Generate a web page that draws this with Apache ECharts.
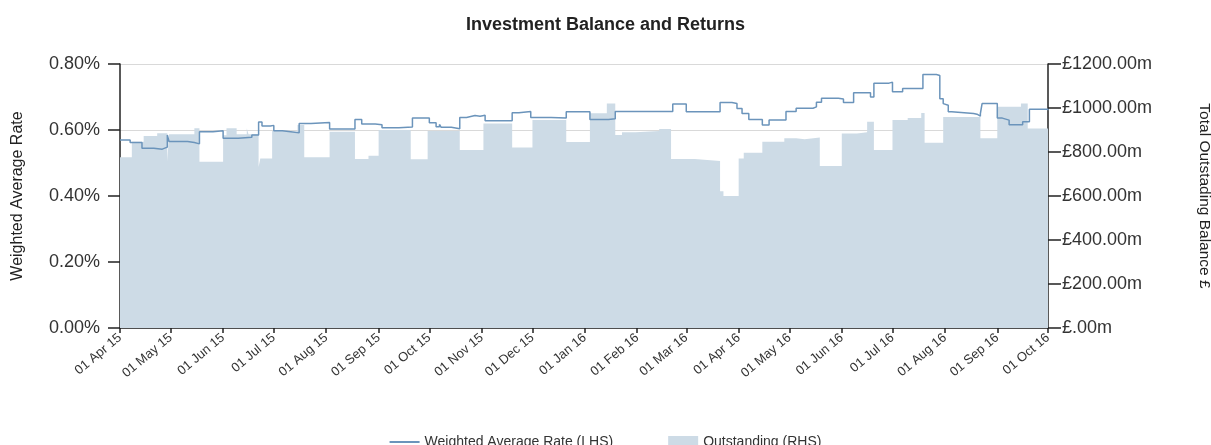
<!DOCTYPE html>
<html lang="en">
<head>
   <meta charset="utf-8">
   <title>Investment Balance and Returns</title>
   <script src="https://cdn.jsdelivr.net/npm/echarts@6.0.0/dist/echarts.min.js"></script>
   <style>
      html, body { margin: 0; padding: 0; background: #fff; }
      #chart { width: 1211px; height: 445px; }
   </style>
</head>
<body>
   <div id="chart"></div>
   <script>
      // axis span (daily categories)
      var startDate = '2015-04-01';
      var endDate = '2016-10-01';

      // weighted average rate (%), value holds until next change
      var rateSteps = [
         ['2015-04-01', 0.570], ['2015-04-07', 0.562], ['2015-04-14', 0.545], ['2015-04-21', 0.542],
         ['2015-04-26', 0.548], ['2015-04-29', 0.585], ['2015-04-30', 0.565], ['2015-05-11', 0.562],
         ['2015-05-15', 0.558], ['2015-05-18', 0.595], ['2015-05-26', 0.598], ['2015-06-01', 0.575],
         ['2015-06-10', 0.578], ['2015-06-18', 0.585], ['2015-06-22', 0.624], ['2015-06-24', 0.612],
         ['2015-06-29', 0.614], ['2015-07-01', 0.598], ['2015-07-06', 0.592], ['2015-07-16', 0.620],
         ['2015-07-23', 0.623], ['2015-08-03', 0.603], ['2015-08-18', 0.632], ['2015-08-22', 0.618],
         ['2015-08-30', 0.616], ['2015-09-03', 0.607], ['2015-09-13', 0.609], ['2015-09-21', 0.636],
         ['2015-10-01', 0.622], ['2015-10-05', 0.610], ['2015-10-07', 0.617], ['2015-10-08', 0.608],
         ['2015-10-14', 0.604], ['2015-10-19', 0.638], ['2015-10-23', 0.644], ['2015-10-28', 0.642],
         ['2015-10-31', 0.645], ['2015-11-03', 0.628], ['2015-11-19', 0.652], ['2015-11-23', 0.656],
         ['2015-11-30', 0.638], ['2015-12-12', 0.636], ['2015-12-21', 0.655], ['2016-01-04', 0.632],
         ['2016-01-15', 0.634], ['2016-01-19', 0.656], ['2016-02-22', 0.679], ['2016-03-01', 0.655],
         ['2016-03-21', 0.683], ['2016-03-28', 0.680], ['2016-03-31', 0.665], ['2016-04-03', 0.650],
         ['2016-04-07', 0.632], ['2016-04-15', 0.615], ['2016-04-19', 0.630], ['2016-04-29', 0.656],
         ['2016-05-05', 0.666], ['2016-05-15', 0.670], ['2016-05-17', 0.684], ['2016-05-20', 0.696],
         ['2016-05-30', 0.694], ['2016-06-02', 0.683], ['2016-06-08', 0.713], ['2016-06-18', 0.700],
         ['2016-06-20', 0.742], ['2016-06-29', 0.745], ['2016-07-01', 0.716], ['2016-07-07', 0.726],
         ['2016-07-19', 0.768], ['2016-07-27', 0.765], ['2016-07-29', 0.695], ['2016-07-31', 0.680],
         ['2016-08-01', 0.675], ['2016-08-03', 0.655], ['2016-08-05', 0.650], ['2016-08-18', 0.648],
         ['2016-08-20', 0.642], ['2016-08-22', 0.650], ['2016-08-23', 0.680], ['2016-09-01', 0.636],
         ['2016-09-04', 0.630], ['2016-09-08', 0.616], ['2016-09-16', 0.625], ['2016-09-20', 0.663],
         ['2016-10-01', 0.660]
      ];

      // total outstanding balance (£m), value holds until next change
      var balanceSteps = [
         ['2015-04-01', 776], ['2015-04-08', 847], ['2015-04-15', 873], ['2015-04-23', 885],
         ['2015-04-29', 756], ['2015-04-30', 881], ['2015-05-15', 908], ['2015-05-18', 756],
         ['2015-06-01', 876], ['2015-06-03', 908], ['2015-06-09', 881], ['2015-06-15', 908],
         ['2015-06-16', 881], ['2015-06-22', 732], ['2015-06-23', 771], ['2015-06-30', 895],
         ['2015-07-07', 888], ['2015-07-15', 923], ['2015-07-19', 776], ['2015-08-03', 892],
         ['2015-08-18', 768], ['2015-08-26', 783], ['2015-09-01', 900], ['2015-09-20', 767],
         ['2015-09-30', 895], ['2015-10-19', 809], ['2015-11-02', 930], ['2015-11-19', 821],
         ['2015-12-01', 945], ['2015-12-21', 845], ['2016-01-04', 976], ['2016-01-14', 1021],
         ['2016-01-19', 877], ['2016-01-23', 890], ['2016-01-31', 895], ['2016-02-14', 905],
         ['2016-02-21', 768], ['2016-03-06', 759], ['2016-03-21', 622], ['2016-03-23', 600],
         ['2016-04-01', 770], ['2016-04-04', 797], ['2016-04-15', 847], ['2016-04-28', 862],
         ['2016-05-05', 858], ['2016-05-10', 866], ['2016-05-19', 736], ['2016-06-01', 884],
         ['2016-06-10', 890], ['2016-06-16', 938], ['2016-06-20', 809], ['2016-07-01', 945],
         ['2016-07-10', 955], ['2016-07-18', 977], ['2016-07-20', 842], ['2016-07-31', 959],
         ['2016-08-22', 862], ['2016-09-01', 1006], ['2016-09-15', 1021], ['2016-09-19', 907],
         ['2016-10-01', 910]
      ];

      var monthNames = ['Jan', 'Feb', 'Mar', 'Apr', 'May', 'Jun', 'Jul', 'Aug', 'Sep', 'Oct', 'Nov', 'Dec'];

      // one category per calendar day
      var days = [];
      var t = Date.parse(startDate + 'T00:00:00Z');
      var tEnd = Date.parse(endDate + 'T00:00:00Z');
      while (t <= tEnd) {
         days.push(new Date(t).toISOString().slice(0, 10));
         t += 86400000;
      }

      function isFirst(index, value) {
         return value.slice(8) === '01';
      }

      var font = 'Arial, "Liberation Sans", sans-serif';
      var lineColor = '#6b94bb';
      var areaColor = '#cddbe6';

      var myChart = echarts.init(document.getElementById('chart'), null, { renderer: 'canvas' });

      var option = {
         animation: false,
         title: {
            text: 'Investment Balance and Returns',
            left: 'center',
            top: 11,
            textStyle: { fontFamily: font, fontSize: 18, fontWeight: 'bold', color: '#222' }
         },
         legend: {
            bottom: -9,
            left: 'center',
            itemWidth: 30,
            itemHeight: 12,
            itemGap: 55,
            textStyle: { fontFamily: font, fontSize: 14, color: '#333' },
            data: [
               // thin line icon (zero-size subpaths keep the box 12px tall)
               { name: 'Weighted Average Rate (LHS)', icon: 'path://M0,0L0,0ZM0,12L0,12ZM0,5L30,5L30,7L0,7Z' },
               { name: 'Outstanding (RHS)', icon: 'rect' }
            ]
         },
         grid: { left: 120, right: 163, top: 64, bottom: 117, outerBoundsMode: 'none' },
         xAxis: {
            type: 'category',
            data: days,
            boundaryGap: false,
            axisLine: { lineStyle: { color: '#222', width: 1.5 } },
            axisTick: { interval: isFirst, length: 5, lineStyle: { color: '#222', width: 1.5 } },
            axisLabel: {
               interval: isFirst,
               rotate: 40,
               margin: 8,
               fontFamily: font,
               fontSize: 13,
               color: '#333',
               formatter: function(v) {
                  return v.slice(8) + ' ' + monthNames[+v.slice(5, 7) - 1] + ' ' + v.slice(2, 4);
               }
            },
            splitLine: { show: false }
         },
         yAxis: [
            {
               type: 'value',
               min: 0,
               max: 0.8,
               interval: 0.2,
               name: 'Weighted Average Rate',
               nameLocation: 'middle',
               nameGap: 94,
               nameTextStyle: { fontFamily: font, fontSize: 16, color: '#222' },
               axisLine: { show: true, lineStyle: { color: '#222', width: 1.5 } },
               axisTick: { show: true, length: 12, lineStyle: { color: '#222', width: 1.5 } },
               axisLabel: {
                  margin: 20,
                  fontFamily: font,
                  fontSize: 18,
                  color: '#333',
                  formatter: function(v) { return v.toFixed(2) + '%'; }
               },
               splitLine: { show: true, lineStyle: { color: '#d9d9d9', width: 1 } }
            },
            {
               type: 'value',
               min: 0,
               max: 1200,
               interval: 200,
               position: 'right',
               name: 'Total Outstading Balance £',
               nameLocation: 'middle',
               nameRotate: -90,
               nameGap: 148,
               nameTextStyle: { fontFamily: font, fontSize: 15.5, color: '#222' },
               axisLine: { show: true, lineStyle: { color: '#222', width: 1.5 } },
               axisTick: { show: true, length: 13, lineStyle: { color: '#222', width: 1.5 } },
               axisLabel: {
                  margin: 14,
                  fontFamily: font,
                  fontSize: 18,
                  color: '#333',
                  formatter: function(v) { return v === 0 ? '£.00m' : '£' + v.toFixed(2) + 'm'; }
               },
               splitLine: { show: false }
            }
         ],
         series: [
            {
               name: 'Outstanding (RHS)',
               type: 'line',
               yAxisIndex: 1,
               step: 'end',
               symbol: 'none',
               itemStyle: { color: areaColor },
               lineStyle: { width: 0, color: areaColor },
               areaStyle: { color: areaColor, opacity: 1 },
               data: balanceSteps,
               z: 1
            },
            {
               name: 'Weighted Average Rate (LHS)',
               type: 'line',
               yAxisIndex: 0,
               step: 'end',
               symbol: 'none',
               itemStyle: { color: lineColor },
               lineStyle: { width: 1.5, color: lineColor },
               data: rateSteps,
               z: 3
            }
         ]
      };

      myChart.setOption(option);
   </script>
</body>
</html>
